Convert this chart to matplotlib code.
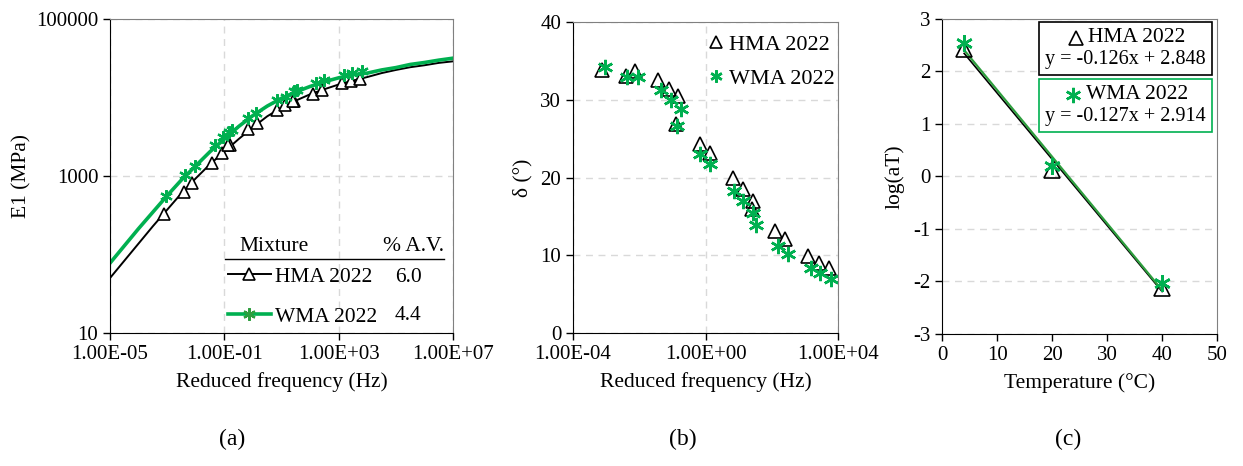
"""Dynamic modulus master curves, phase angle and shift factors (HMA vs WMA 2022)"""
import numpy as np
import matplotlib
matplotlib.use("Agg")
import matplotlib.pyplot as plt
from matplotlib.lines import Line2D
from matplotlib.offsetbox import (AnchoredOffsetbox, DrawingArea, HPacker,
                                  TextArea, VPacker)

plt.rcParams['font.family'] = ['Liberation Serif', 'DejaVu Serif']
plt.rcParams['font.size'] = 15
plt.rcParams['axes.labelsize'] = 15.5
plt.rcParams['axes.unicode_minus'] = False

GREEN = '#00b050'
GRID = '#d9d9d9'

hma_logf = [-3.12, -2.41, -2.12, -1.42, -1.10, -0.82,
            -0.88, -0.16, 0.14, 0.83, 1.13, 1.42,
            1.40, 2.11, 2.41, 3.10, 3.44, 3.73]
wma_logf = [-3.04, -2.36, -2.03, -1.34, -1.05, -0.75,
            -0.85, -0.17, 0.12, 0.85, 1.14, 1.43,
            1.53, 2.20, 2.48, 3.18, 3.45, 3.80]

# E1 of the points (log10 MPa)
hma_logE = [2.52, 2.79, 2.91, 3.17, 3.29, 3.40,
            3.39, 3.60, 3.68, 3.84, 3.90, 3.95,
            3.95, 4.05, 4.09, 4.18, 4.21, 4.23]
wma_logE = [2.74, 3.01, 3.13, 3.39, 3.49, 3.58,
            3.56, 3.74, 3.80, 3.97, 4.01, 4.08,
            4.10, 4.18, 4.22, 4.28, 4.31, 4.34]

# phase angle (deg)
hma_delta = [33.8, 33.1, 33.7, 32.6, 31.4, 30.5,
             26.9, 24.3, 23.2, 19.9, 18.5, 17.0,
             16.0, 13.1, 12.1, 9.9, 9.0, 8.4]
wma_delta = [34.2, 32.9, 32.9, 31.3, 30.0, 28.8,
             26.6, 23.1, 21.8, 18.3, 17.0, 15.5,
             13.9, 11.2, 10.2, 8.4, 7.7, 6.9]

# ---- fitted master curves (log10 f vs log10 E1) ----
curve_logf = [-5, -4.5, -4, -3.5, -3, -2.5, -2, -1.5, -1, -0.5, 0, 0.5,
              1, 1.5, 2, 2.5, 3, 3.5, 4, 4.5, 5, 5.5, 6, 6.5, 7]
hma_curve = [1.70, 1.92, 2.14, 2.36, 2.57, 2.78, 2.97, 3.15, 3.31, 3.47,
             3.62, 3.76, 3.87, 3.96, 4.04, 4.105, 4.165, 4.215, 4.26,
             4.31, 4.35, 4.385, 4.41, 4.44, 4.46]
wma_curve = [1.89, 2.11, 2.33, 2.54, 2.75, 2.95, 3.13, 3.31, 3.47, 3.63,
             3.77, 3.89, 3.99, 4.07, 4.14, 4.20, 4.25, 4.29, 4.31,
             4.35, 4.38, 4.42, 4.445, 4.475, 4.50]

# ---- shift factors ----
temps = [4, 20, 40]
hma_logaT = [2.42, 0.12, -2.13]
wma_logaT = [2.55, 0.19, -2.02]
hma_fit = (-0.126, 2.848)
wma_fit = (-0.127, 2.914)

mixtures = ['HMA 2022', 'WMA 2022']
air_voids = ['6.0', '4.4']

STAR = (6, 2, 0)


def style_axes(ax):
    for side in ('top', 'right'):
        ax.spines[side].set_color('#808080')
    for side in ('left', 'bottom'):
        ax.spines[side].set_color('black')
    ax.tick_params(direction='out', length=5, width=1, colors='black',
                   which='major', labelsize=15)
    ax.tick_params(which='minor', length=0)
    ax.set_axisbelow(True)


fig = plt.figure(figsize=(12.43, 4.66), dpi=100)
ax1 = fig.add_axes([0.0885, 0.2854, 0.276, 0.674])
ax2 = fig.add_axes([0.461, 0.2854, 0.2132, 0.667])
ax3 = fig.add_axes([0.758, 0.2833, 0.2212, 0.676])

# ---------------- (a) E1 master curve ----------------
ax1.plot(10 ** np.array(curve_logf), 10 ** np.array(hma_curve), color='black', lw=1.4)
ax1.plot(10 ** np.array(hma_logf), 10 ** np.array(hma_logE), ls='none', marker='^',
         ms=8, mfc='white', mec='black', mew=1.2)
ax1.plot(10 ** np.array(curve_logf), 10 ** np.array(wma_curve), color=GREEN, lw=2.6)
ax1.plot(10 ** np.array(wma_logf), 10 ** np.array(wma_logE), ls='none', marker=STAR,
         ms=9, mec=GREEN, mew=1.6)
ax1.set_xscale('log')
ax1.set_yscale('log')
ax1.set_xlim(1e-5, 1e7)
ax1.set_ylim(10, 1e5)
ax1.set_xticks([1e-5, 1e-1, 1e3, 1e7])
ax1.set_xticklabels(['1.00E-05', '1.00E-01', '1.00E+03', '1.00E+07'])
ax1.set_yticks([10, 1000, 100000])
ax1.set_yticklabels(['10', '1000', '100000'])
ax1.grid(True, color=GRID, ls=(0, (5, 4)), lw=1)
ax1.set_xlabel('Reduced frequency (Hz)', labelpad=6)
ax1.set_ylabel('E1 (MPa)', labelpad=3)
style_axes(ax1)

handles = [Line2D([], [], color='black', lw=1.4, marker='^', ms=8, mfc='white',
                  mec='black', mew=1.2),
           Line2D([], [], color=GREEN, lw=2.6, marker=STAR, ms=9, mec='#2e9e3e', mew=1.6)]
ax1.legend(handles, mixtures, loc='upper left', bbox_to_anchor=(0.33, 0.225),
           frameon=False, handlelength=2.0, handletextpad=0.2, labelspacing=0.92,
           borderpad=0.2, borderaxespad=0, fontsize=15.5)
ax1.text(0.378, 0.275, 'Mixture', transform=ax1.transAxes, ha='left', va='center',
         fontsize=15.5)
ax1.text(0.975, 0.275, '% A.V.', transform=ax1.transAxes, ha='right', va='center',
         fontsize=15.5)
ax1.plot([0.335, 0.974], [0.236, 0.236], transform=ax1.transAxes, color='black', lw=1)
for yy, v in zip([0.176, 0.055], air_voids):
    ax1.text(0.87, yy, v, transform=ax1.transAxes, ha='center', va='center',
             fontsize=15.5)

# ---------------- (b) phase angle ----------------
ax2.plot(10 ** np.array(hma_logf), hma_delta, ls='none', marker='^', ms=10,
         mfc='none', mec='black', mew=1.2, label=mixtures[0])
ax2.plot(10 ** np.array(wma_logf), wma_delta, ls='none', marker=STAR, ms=11,
         mec=GREEN, mew=1.8, label=mixtures[1])
ax2.set_xscale('log')
ax2.set_xlim(1e-4, 1e4)
ax2.set_ylim(0, 40)
ax2.set_xticks([1e-4, 1e0, 1e4])
ax2.set_xticklabels(['1.00E-04', '1.00E+00', '1.00E+04'])
ax2.set_yticks([0, 10, 20, 30, 40])
ax2.grid(True, color=GRID, ls=(0, (5, 4)), lw=1)
ax2.set_xlabel('Reduced frequency (Hz)', labelpad=6)
ax2.set_ylabel('δ (°)', labelpad=6)
style_axes(ax2)
ax2.legend(loc='upper right', bbox_to_anchor=(1.035, 1.0), frameon=False,
           handlelength=0.6, handletextpad=0.3, labelspacing=0.6,
           borderaxespad=0.45, borderpad=0.1, fontsize=16, markerscale=0.8)

# ---------------- (c) shift factors ----------------
tline = np.array([min(temps), max(temps)])
ax3.plot(tline, hma_fit[0] * tline + hma_fit[1], color='black', lw=1.2)
ax3.plot(tline, wma_fit[0] * tline + wma_fit[1], color='#2e9e3e', lw=1.6)
ax3.plot(temps, hma_logaT, ls='none', marker='^', ms=11, mfc='none', mec='black', mew=1.2)
ax3.plot(temps, wma_logaT, ls='none', marker=STAR, ms=12, mec=GREEN, mew=1.8)
ax3.set_xlim(0, 50)
ax3.set_ylim(-3, 3)
ax3.set_xticks(range(0, 51, 10))
ax3.set_yticks(range(-3, 4))
ax3.grid(True, axis='y', color=GRID, ls=(0, (5, 4)), lw=1)
ax3.set_xlabel('Temperature (°C)', labelpad=6)
ax3.set_ylabel('log(aT)', labelpad=6)
style_axes(ax3)


def eq_box(ax, marker_kw, name, fit, edge, top):
    da = DrawingArea(14, 12, 0, 0)
    da.add_artist(Line2D([7], [6], ls='none', **marker_kw))
    row = HPacker(children=[da, TextArea(name, textprops=dict(fontsize=15.5))],
                  align='center', pad=0, sep=2)
    eq = TextArea(f'y = {fit[0]:.3f}x + {fit[1]:.3f}', textprops=dict(fontsize=14.5))
    box = VPacker(children=[row, eq], align='center', pad=0, sep=2)
    anchored = AnchoredOffsetbox(loc='upper right', child=box, pad=0.3, borderpad=0,
                                 frameon=True, bbox_to_anchor=(0.982, top),
                                 bbox_transform=ax.transAxes)
    anchored.patch.set_edgecolor(edge)
    anchored.patch.set_linewidth(1.2)
    anchored.patch.set_boxstyle('square', pad=0)
    ax.add_artist(anchored)


eq_box(ax3, dict(marker='^', ms=10, mfc='none', mec='black', mew=1.2),
       mixtures[0], hma_fit, 'black', 0.99)
eq_box(ax3, dict(marker=STAR, ms=11, mec=GREEN, mew=1.8),
       mixtures[1], wma_fit, GREEN, 0.81)

for x, lab in zip([0.187, 0.549, 0.859], ['(a)', '(b)', '(c)']):
    fig.text(x, 0.056, lab, ha='center', va='center', fontsize=17)

fig.savefig('out.png', dpi=100)
